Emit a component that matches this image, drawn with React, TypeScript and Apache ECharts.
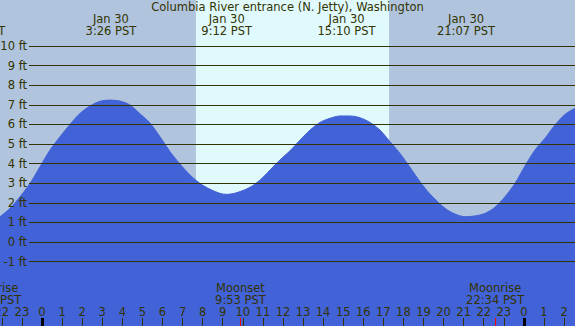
import React, { useEffect, useRef } from 'react';
import * as echarts from 'echarts';

// ---- data ----
const titleText = 'Columbia River entrance (N. Jetty), Washington';

// hours relative to Jan 30 00:00 PST, tide height in feet
const tideHours = [-2.092, -1.594, -1.096, -0.598, -0.1, 0.398, 0.896, 1.394, 1.892, 2.39, 2.888, 3.386, 3.884, 4.382, 4.88, 5.378, 5.876, 6.375, 6.873, 7.371, 7.869, 8.367, 8.865, 9.213, 9.711, 10.359, 10.857, 11.355, 11.853, 12.351, 12.849, 13.347, 13.845, 14.343, 14.841, 15.339, 15.837, 16.335, 16.833, 17.331, 17.829, 18.327, 18.825, 19.323, 20.07, 20.568, 21.066, 21.564, 22.062, 22.56, 23.058, 23.556, 24.054, 24.552, 25.05, 25.548, 26.046, 26.544];
const tideFeet = [1.29, 1.72, 2.31, 2.99, 3.84, 4.69, 5.37, 6.0, 6.56, 6.94, 7.18, 7.24, 7.19, 6.99, 6.54, 6.07, 5.37, 4.61, 3.98, 3.42, 2.99, 2.69, 2.48, 2.43, 2.52, 2.79, 3.16, 3.67, 4.19, 4.65, 5.2, 5.71, 6.1, 6.31, 6.43, 6.43, 6.34, 6.1, 5.71, 5.12, 4.52, 3.81, 3.08, 2.45, 1.72, 1.43, 1.29, 1.33, 1.46, 1.77, 2.31, 2.99, 3.88, 4.69, 5.29, 5.97, 6.51, 6.82];

const extremeHours = [-3.28, 3.433, 9.2, 15.167, 21.117];
const extremeLabels = ['Jan 29\n20:43 PST', 'Jan 30\n3:26 PST', 'Jan 30\n9:12 PST', 'Jan 30\n15:10 PST', 'Jan 30\n21:07 PST'];

const moonHours = [-2.48, 9.883, 22.567];
const moonLabels = ['Moonrise\n21:31 PST', 'Moonset\n9:53 PST', 'Moonrise\n22:34 PST'];

const hourTicks = [-2, -1, 0, 1, 2, 3, 4, 5, 6, 7, 8, 9, 10, 11, 12, 13, 14, 15, 16, 17, 18, 19, 20, 21, 22, 23, 24, 25, 26];
const midnightHours = [0, 24];
const daylightHours = [7.667, 17.283];
const footLevels = [-1, 0, 1, 2, 3, 4, 5, 6, 7, 8, 9, 10];

const xMin = -2.092;
const xMax = 26.545;
const yMin = -4.286;
const yMax = 12.347;

// ---- styles ----
const NIGHT = '#b0c4de';
const DAY = '#dff9fd';
const WATER = '#4262d8';
const TEXT = '#333300';
const LINE = '#333300';
const FONT = 'DejaVu Sans';
const FS = 11.5;

export default function App() {
  const ref = useRef<HTMLDivElement>(null);

  useEffect(() => {
    if (!ref.current) return;
    const chart = echarts.init(ref.current, undefined, { renderer: 'svg' });

    const baseAxis = {
      type: 'value',
      min: xMin,
      max: xMax,
      position: 'bottom',
      z: 10,
      axisLine: { show: false, onZero: false },
      splitLine: { show: false },
    };

    chart.setOption({
      animation: false,
      backgroundColor: NIGHT,
      grid: { left: 0, right: 0, top: 0, bottom: 0, containLabel: false, outerBoundsMode: 'none' },
      xAxis: [
        {
          ...baseAxis,
          axisTick: { show: true, inside: true, length: 8, lineStyle: { color: LINE, width: 1 }, customValues: hourTicks },
          axisLabel: {
            show: true,
            inside: true,
            margin: 14.5,
            verticalAlign: 'middle',
            customValues: hourTicks,
            formatter: (v: number) => String(((Math.round(v) % 24) + 24) % 24),
            color: TEXT,
            fontFamily: FONT,
            fontSize: FS,
            hideOverlap: false,
          },
        },
        {
          ...baseAxis,
          axisTick: { show: true, inside: true, length: 8, lineStyle: { color: '#000000', width: 3 }, customValues: midnightHours },
          axisLabel: { show: false },
        },
        {
          ...baseAxis,
          axisTick: {
            show: true,
            inside: true,
            length: 8,
            lineStyle: { color: '#ff0000', width: 1 },
            customValues: moonHours.filter((h) => h >= xMin && h <= xMax),
          },
          axisLabel: { show: false },
        },
      ],
      yAxis: { type: 'value', min: yMin, max: yMax, show: false },
      series: [
        {
          type: 'line',
          xAxisIndex: 0,
          yAxisIndex: 0,
          data: tideHours.map((h, i) => [h, tideFeet[i]]),
          smooth: 0.3,
          symbol: 'none',
          silent: true,
          lineStyle: { color: WATER, width: 1 },
          areaStyle: { color: WATER, opacity: 1, origin: 'start' },
          markArea: {
            silent: true,
            itemStyle: { color: DAY },
            data: [[{ xAxis: daylightHours[0] }, { xAxis: daylightHours[1] }]],
          },
        },
      ],
    });

    const xs = chart.convertFromPixel({ xAxisIndex: 0 }, 29) as number;
    const px = (h: number) => chart.convertToPixel({ xAxisIndex: 0 }, h) as number;

    const textStyle = (text: string) => ({
      text,
      fill: TEXT,
      fontFamily: FONT,
      fontSize: FS,
      lineHeight: 12,
      align: 'center',
      verticalAlign: 'middle',
      textAlign: 'center',
      textVerticalAlign: 'middle',
    });

    const graphics: any[] = [
      { type: 'text', x: 287.5, y: 7, z: 10, silent: true, style: textStyle(titleText) },
    ];
    extremeHours.forEach((h, i) => {
      graphics.push({ type: 'text', x: px(h), y: 25, z: 10, silent: true, style: textStyle(extremeLabels[i]) });
    });
    moonHours.forEach((h, i) => {
      graphics.push({ type: 'text', x: px(h), y: 293.5, z: 10, silent: true, style: textStyle(moonLabels[i]) });
    });

    chart.setOption({
      series: [
        {
          markLine: {
            silent: true,
            symbol: ['none', 'none'],
            animation: false,
            lineStyle: { color: LINE, width: 1, type: 'solid' },
            label: { show: true, position: 'start', formatter: '{b}', color: TEXT, fontFamily: FONT, fontSize: FS, distance: 2 },
            data: footLevels.map((v) => [
              { coord: [xs, v], name: `${v} ft` },
              { coord: [xMax, v] },
            ]),
          },
        },
      ],
      graphic: graphics,
    });

    return () => chart.dispose();
  }, []);

  return <div ref={ref} style={{ position: 'fixed', left: 0, top: 0, width: 575, height: 326 }} />;
}
